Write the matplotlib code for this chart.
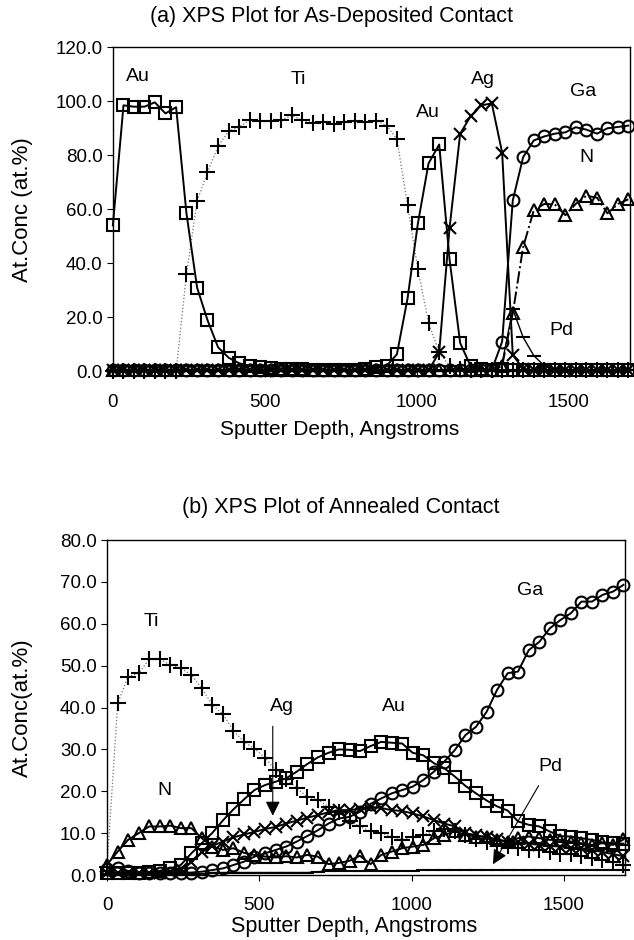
import matplotlib
matplotlib.use('Agg')
import matplotlib.pyplot as plt
from matplotlib.ticker import FormatStrFormatter

plt.rcParams['font.family'] = ['Liberation Sans', 'DejaVu Sans']

# sputter depth (Angstroms) of each measurement
depth = [0, 35, 69, 104, 138, 173, 208, 242, 277, 311,
         346, 381, 415, 450, 484, 519, 554, 588, 623, 657,
         692, 727, 761, 796, 830, 865, 900, 934, 969, 1003,
         1038, 1073, 1107, 1142, 1176, 1211, 1246, 1280, 1315, 1349,
         1384, 1419, 1453, 1488, 1522, 1557, 1592, 1626, 1661, 1695]

# (a) as-deposited
au_a = [54, 98.5, 98, 98, 99.6, 95.5, 97.8, 58.5, 31, 19,
        8.9, 5, 3, 2, 1.5, 1.2, 1, 0.8, 0.7, 0.6,
        0.5, 0.5, 0.5, 0.5, 0.8, 1.5, 2, 6.3, 27, 54.8,
        77, 84, 41.5, 10.5, 2, 1, 0.5, 0.5, 0.5, 0.3,
        0.3, 0.3, 0.3, 0.3, 0.3, 0.3, 0.3, 0.3, 0.3, 0.3]
ti_a = [0, 0, 0, 0, 0, 0, 0, 36, 63, 73.7,
        83.3, 89, 90.4, 93, 92.6, 92.6, 93, 94.8, 93, 92,
        92.3, 91.5, 92.5, 92.8, 92.5, 92.8, 91, 86, 61.5, 37.8,
        18, 7, 2, 1, 0.5, 0.5, 0.5, 0.5, 0.5, 0.5,
        0.5, 0.5, 0.5, 0.5, 0.5, 0.5, 0.5, 0.5, 0.5, 0.5]
ag_a = [0.3, 0.3, 0.3, 0.3, 0.3, 0.3, 0.3, 0.3, 0.3, 0.3,
        0.3, 0.3, 0.3, 0.3, 0.3, 0.3, 0.3, 0.3, 0.3, 0.3,
        0.3, 0.3, 0.3, 0.3, 0.3, 0.3, 0.3, 0.3, 0.3, 0.3,
        0.3, 7, 53, 88, 94.4, 98.5, 99.2, 81, 6, 1,
        0.3, 0.3, 0.3, 0.3, 0.3, 0.3, 0.3, 0.3, 0.3, 0.3]
ga_a = [0.3, 0.3, 0.3, 0.3, 0.3, 0.3, 0.3, 0.3, 0.3, 0.3,
        0.3, 0.3, 0.3, 0.3, 0.3, 0.3, 0.3, 0.3, 0.3, 0.3,
        0.3, 0.3, 0.3, 0.3, 0.3, 0.3, 0.3, 0.3, 0.3, 0.3,
        0.3, 0.3, 0.3, 0.3, 0.3, 0.3, 0.5, 11, 63.3, 79.3,
        85.5, 87, 88, 88.5, 90.4, 89.5, 88, 90, 90.5, 91]
n_a = [0.3, 0.3, 0.3, 0.3, 0.3, 0.3, 0.3, 0.3, 0.3, 0.3,
       0.3, 0.3, 0.3, 0.3, 0.3, 0.3, 0.3, 0.3, 0.3, 0.3,
       0.3, 0.3, 0.3, 0.3, 0.3, 0.3, 0.3, 0.3, 0.3, 0.3,
       0.3, 0.3, 0.3, 0.3, 0.3, 0.3, 0.3, 2, 21.5, 46,
       59.6, 62, 61.8, 57.8, 62, 65, 64.3, 58.5, 62, 63.7]
pd_a = [0.3, 0.3, 0.3, 0.3, 0.3, 0.3, 0.3, 0.3, 0.3, 0.3,
        0.3, 0.3, 0.3, 0.3, 0.3, 0.3, 0.3, 0.3, 0.3, 0.3,
        0.3, 0.3, 0.3, 0.3, 0.3, 0.3, 0.3, 0.3, 0.3, 0.3,
        0.3, 0.3, 0.3, 0.3, 0.3, 0.3, 0.3, 3, 23, 12.6,
        5.8, 2, 0.8, 0.3, 0.3, 0.3, 0.3, 0.3, 0.3, 0.3]

# (b) annealed
ti_b = [2, 41, 47.4, 48.2, 51.5, 51.5, 50.2, 49.4, 47.8, 44.6,
        40.6, 38.4, 34.4, 31.8, 30.2, 28, 25, 23, 20.7, 18.7,
        18, 16.3, 15, 13, 11.6, 10.4, 10, 9.2, 8.4, 9.2,
        9.6, 10.4, 11, 10.5, 9.5, 8.5, 8, 7.5, 7, 6.5,
        6, 6, 5.5, 5, 5, 4.5, 4, 3.5, 3.2, 2.4]
au_b = [0.5, 0.5, 0.5, 0.6, 0.7, 1, 1.6, 2.4, 5.2, 7.6,
        10.1, 13.1, 15.7, 18.1, 20.3, 21.5, 22.3, 23.1, 24.7, 26.5,
        28.1, 29.2, 30, 29.9, 29.6, 30.8, 31.8, 31.6, 31.4, 29.2,
        28.6, 26.7, 25.5, 23.5, 21.3, 19.5, 17.8, 16.4, 15.4, 12.8,
        12, 11.6, 10.4, 9.3, 9.2, 8.8, 8.4, 7.8, 7.6, 7.5]
ga_b = [1.5, 1.8, 1, 0.6, 0.5, 0.5, 0.5, 0.5, 0.6, 0.8,
        1.2, 1.6, 2.4, 3.2, 4.4, 5.2, 6, 6.8, 8, 9.3,
        10.7, 12.3, 13.5, 13.9, 15.1, 17, 18.3, 19.5, 20.3, 21.1,
        22.7, 24.7, 27.1, 29.9, 33.4, 35.4, 39, 44.2, 48.2, 48.6,
        53.7, 55.7, 58.9, 60.9, 62.5, 65.3, 65.3, 66.9, 67.7, 69.3]
ag_b = [0.5, 0.5, 0.5, 0.5, 0.5, 0.5, 0.8, 1.5, 3, 5.5,
        7, 8, 9, 9.7, 10.3, 11, 11.5, 12.3, 13, 13.7,
        14.3, 15, 15.5, 15.5, 15.8, 16.3, 16, 15.5, 15.3, 14.7,
        14, 13.1, 12.3, 11.6, 10, 9.5, 9, 8.5, 8, 7.8,
        7.5, 7.2, 7, 6.8, 6.5, 6.4, 6, 5.5, 5, 4.5]
n_b = [2.5, 5.6, 8.4, 10, 11.6, 11.6, 11.8, 11.2, 11.2, 8.8,
       6.8, 6, 6.4, 5.3, 4.8, 4.4, 4.2, 4.5, 4.2, 4.8,
       4.4, 2.6, 2.9, 3.4, 4.6, 2.6, 4.8, 5.6, 6.4, 6.8,
       7.2, 8.8, 9.6, 10.4, 9.6, 9.2, 9.2, 8.4, 8, 8.8,
       9.2, 8.8, 8.4, 8.4, 8, 7.6, 7.2, 7.6, 7.2, 8.5]
pd_b = [0.3, 0.3, 0.3, 0.3, 0.3, 0.3, 0.3, 0.3, 0.3, 0.3,
        0.6, 0.6, 0.6, 0.6, 0.6, 0.6, 0.6, 0.6, 0.6, 0.6,
        0.8, 1, 1, 1, 1, 1, 1, 1, 1, 1,
        1.2, 1.2, 1.2, 1.2, 1.2, 1.2, 1.2, 1.2, 1.2, 1.2,
        1.2, 1.2, 1.2, 1.2, 1.2, 1.2, 1.2, 1.2, 1.2, 1.2]

fig = plt.figure(figsize=(6.34, 9.4), dpi=100)
ax1 = fig.add_axes([0.178, 0.605, 0.8155, 0.3447])
ax2 = fig.add_axes([0.1688, 0.0691, 0.817, 0.3564])

mk = dict(mfc='none', mec='black', mew=1.5, clip_on=False)


def draw(ax, ti, au, ag, ga, n, pd, n_ls):
    ax.plot(depth, ti, ls=':', lw=0.9, color='0.45', marker='+', ms=11, **mk)
    ax.plot(depth, pd, ls='-', lw=1.0, color='black', marker='_', ms=10, **mk)
    ax.plot(depth, n, ls=n_ls, lw=1.4, color='black', marker='^', ms=8.5, **mk)
    ax.plot(depth, ag, ls='-', lw=1.4, color='black', marker='x', ms=9, **mk)
    ax.plot(depth, ga, ls='-', lw=1.4, color='black', marker='o', ms=8.5, **mk)
    ax.plot(depth, au, ls='-', lw=1.4, color='black', marker='s', ms=8.5, **mk)


draw(ax1, ti_a, au_a, ag_a, ga_a, n_a, pd_a, '-.')
draw(ax2, ti_b, au_b, ag_b, ga_b, n_b, pd_b, '-')

for ax, ymax in ((ax1, 120), (ax2, 80)):
    ax.set_xlim(0, 1700)
    ax.set_ylim(0, ymax)
    ax.set_xticks([0, 500, 1000, 1500])
    ax.set_yticks(range(0, ymax + 1, 20 if ymax == 120 else 10))
    ax.yaxis.set_major_formatter(FormatStrFormatter('%.1f'))
    ax.tick_params(labelsize=13.5, direction='out', length=4, width=0.8)
    ax.tick_params(axis='x', pad=12)
    for s in ax.spines.values():
        s.set_linewidth(1.0)

ax1.set_xlabel('Sputter Depth, Angstroms', fontsize=15)
ax2.set_xlabel('Sputter Depth, Angstroms', fontsize=15.5)
ax1.xaxis.set_label_coords((340 - 113) / 517, -0.15)
ax2.xaxis.set_label_coords((354 - 107) / 518, -0.122)
ax1.set_ylabel('At.Conc (at.%)', fontsize=16)
ax2.set_ylabel('At.Conc(at.%)', fontsize=16)
ax1.yaxis.set_label_coords(-0.155, 0.5)
ax2.yaxis.set_label_coords(-0.143, 0.5)

fig.text(331 / 634, 0.982, '(a) XPS Plot for As-Deposited Contact',
         fontsize=15.5, ha='center', va='center')
fig.text(341 / 634, 1 - 507 / 940, '(b) XPS Plot of Annealed Contact',
         fontsize=15.5, ha='center', va='center')

fs = 14
for x, y, t in ((83, 109, 'Au'), (610, 108, 'Ti'), (1037, 96, 'Au'),
                (1218, 108, 'Ag'), (1547, 103.5, 'Ga'), (1558, 79, 'N'),
                (1476, 15.2, 'Pd')):
    ax1.text(x, y, t, fontsize=fs, ha='center', va='center')

for x, y, t in ((147, 60.5, 'Ti'), (190, 20.3, 'N'), (940, 40.2, 'Au'),
                (1388, 68, 'Ga'), (573, 40.2, 'Ag'), (1454, 25.9, 'Pd')):
    ax2.text(x, y, t, fontsize=fs, ha='center', va='center')

ax2.annotate('', xy=(544, 13.5), xytext=(544, 36.2),
             arrowprops=dict(arrowstyle='-|>', color='black', lw=0.8,
                             mutation_scale=22))
ax2.annotate('', xy=(1262, 2.0), xytext=(1421, 21.9),
             arrowprops=dict(arrowstyle='-|>', color='black', lw=0.8,
                             mutation_scale=22))

fig.savefig('out.png', dpi=100)
